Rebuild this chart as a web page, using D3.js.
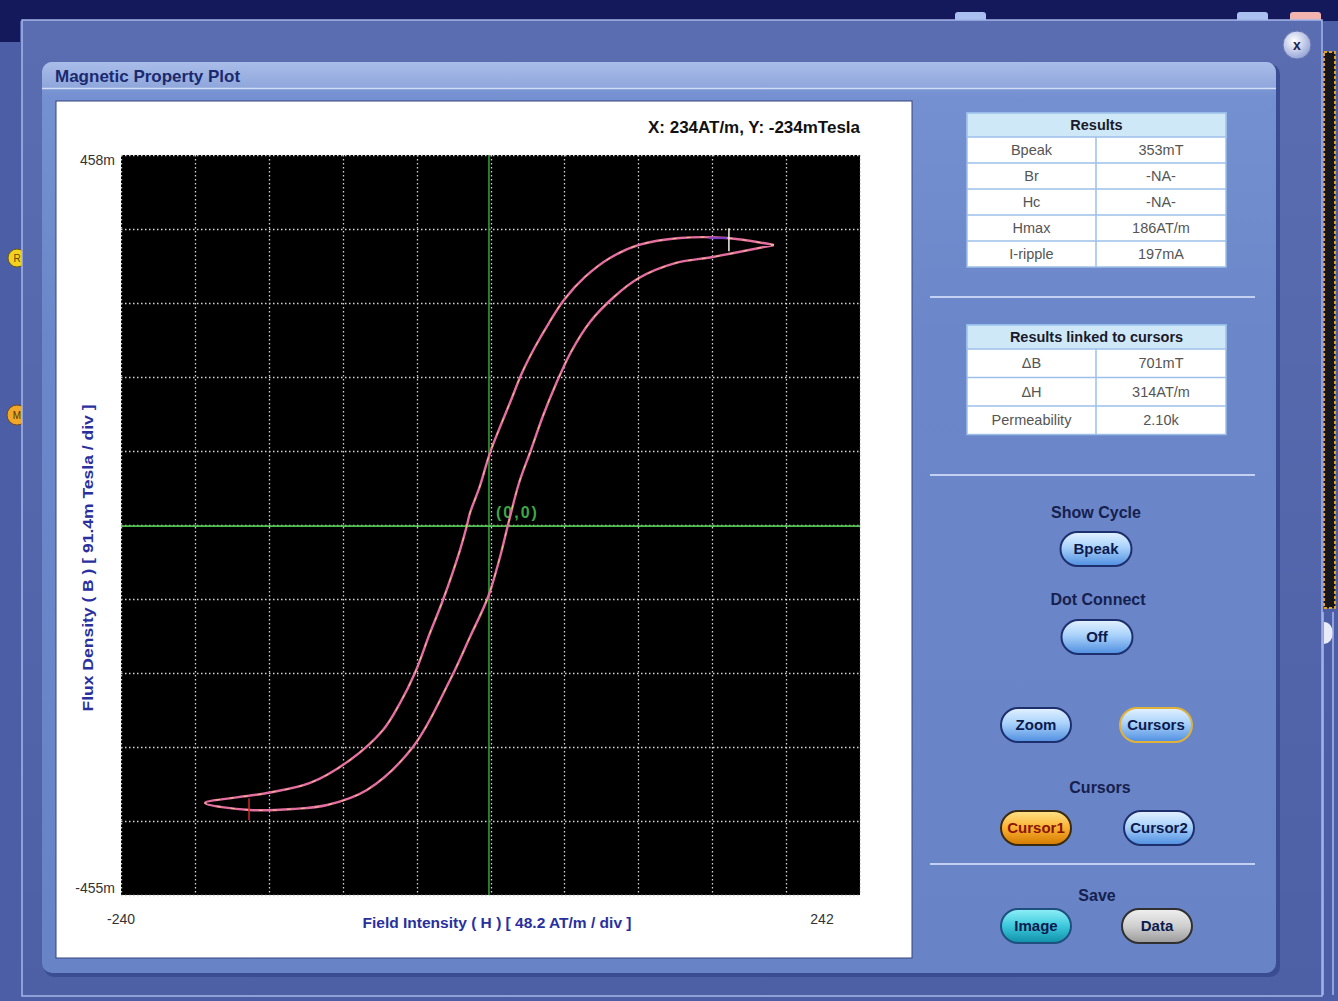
<!DOCTYPE html>
<html><head><meta charset="utf-8">
<script src="https://cdn.jsdelivr.net/npm/d3@7"></script>
<style>
body{margin:0;background:#4b5ea6;overflow:hidden}
svg{display:block}
text{font-family:"Liberation Sans",Arial,sans-serif}
</style>
</head><body>
<svg id="c" width="1338" height="1001"></svg>
<script>
// ---------- data ----------
const hDomain = [-240, 242];          // Field intensity H, AT/m
const bDomain = [-455, 458];          // Flux density B, mT
const hDivisions = 10;
const bDivisions = 10;
const hTickLabels = ["-240", "242"];
const bTickLabels = ["458m", "-455m"];

// descending branch (from +Hmax tip to -Hmax tip)
const descH = [185.9, 155.2, 124.6, 97.8, 78.9, 62.6, 48.9, 39.1, 30.0, 21.5, 14.4, 7.2, 0.6, -6.1, -12.4, -14.3, -18.9, -30.0, -38.5, -48.3, -58.0, -69.1, -90.6, -116.7, -144.8, -185.2];
const descB = [347, 355.6, 355.6, 347, 330.9, 307.5, 279.1, 250.7, 221.1, 189, 155.7, 122.4, 90.3, 48.4, 16.3, 1.5, -29.4, -91, -131.8, -181.1, -218.1, -251.4, -288.4, -316.8, -329.2, -341.5];
// ascending branch (from -Hmax tip back to +Hmax tip)
const ascH = [-185.2, -155.9, -127.8, -105.6, -79.6, -49.6, -25.4, -12.4, -0.6, 7.2, 12.4, 19.6, 27.4, 35.2, 43.7, 53.5, 65.9, 81.5, 97.8, 122.0, 146.1, 185.9];
const ascB = [-341.5, -350.1, -348.9, -344, -325.5, -272.4, -189.7, -136.7, -87.3, -38, 1.5, 53.3, 94, 136, 175.5, 215, 252, 282.8, 306.2, 324.8, 332.2, 347];

const cursorH = [-156.5, 156.5];
const cursorB = [-350.5, 350.5];
const cursorReadout = "X: 234AT/m, Y: -234mTesla";
const xAxisTitle = "Field Intensity ( H )  [ 48.2 AT/m / div ]";
const yAxisTitle = "Flux Density ( B )  [ 91.4m Tesla / div ]";

const resultsLabels = ["Bpeak", "Br", "Hc", "Hmax", "I-ripple"];
const resultsValues = ["353mT", "-NA-", "-NA-", "186AT/m", "197mA"];
const cursorLabels = ["\u0394B", "\u0394H", "Permeability"];
const cursorValues = ["701mT", "314AT/m", "2.10k"];

// ---------- drawing ----------
const svg = d3.select("#c");
const defs = svg.append("defs");

function lg(id, stops, vertical = true) {
  const g = defs.append("linearGradient").attr("id", id)
    .attr("x1", 0).attr("y1", 0).attr("x2", vertical ? 0 : 1).attr("y2", vertical ? 1 : 0);
  stops.forEach(s => g.append("stop").attr("offset", s[0]).attr("stop-color", s[1]));
}
lg("win", [[0, "#5a6db0"], [1, "#4d60a6"]]);
lg("title", [[0, "#aabde9"], [1, "#8ea6db"]]);
lg("panel", [[0, "#86a0da"], [0.04, "#7590d0"], [0.3, "#6b87c9"], [1, "#6884c7"]]);
lg("btnBlue", [[0, "#e4f2ff"], [0.45, "#a9d2fb"], [1, "#4f8ee0"]]);
lg("btnOrange", [[0, "#ffe38a"], [0.5, "#fbb030"], [1, "#d27a00"]]);
lg("btnTeal", [[0, "#8ff0f8"], [0.5, "#3cc8dc"], [1, "#0f8fa8"]]);
lg("btnGray", [[0, "#f0f0f0"], [0.5, "#cfcfcf"], [1, "#9a9a9a"]]);
const rg = defs.append("radialGradient").attr("id", "closeG").attr("cx", "40%").attr("cy", "35%").attr("r", "65%");
rg.append("stop").attr("offset", 0).attr("stop-color", "#ffffff");
rg.append("stop").attr("offset", 1).attr("stop-color", "#98a6d8");

// background bands
svg.append("rect").attr("width", 1338).attr("height", 1001).attr("fill", "#4b5ea6");
svg.append("rect").attr("width", 1338).attr("height", 21).attr("fill", "#14195c");
svg.append("rect").attr("x", 0).attr("y", 0).attr("width", 20).attr("height", 42).attr("fill", "#14195c");
// top tabs
[[955, 31, "#a9c0f0"], [1237, 31, "#a9c0f0"], [1290, 31, "#f3b4b0"]].forEach(t => {
  svg.append("rect").attr("x", t[0]).attr("y", 12).attr("width", t[1]).attr("height", 12).attr("rx", 3).attr("fill", t[2]);
});
// left side indicator circles
svg.append("circle").attr("cx", 17).attr("cy", 258).attr("r", 9).attr("fill", "#f2d21e").attr("stroke", "#6a5a10");
svg.append("text").attr("x", 17).attr("y", 262).attr("text-anchor", "middle").attr("font-size", 10).attr("fill", "#5a4a00").text("R");
svg.append("circle").attr("cx", 17).attr("cy", 415).attr("r", 10).attr("fill", "#f0a82a").attr("stroke", "#7a4a10");
svg.append("text").attr("x", 17).attr("y", 419).attr("text-anchor", "middle").attr("font-size", 10).attr("fill", "#5a3000").text("M");

// outer window
svg.append("rect").attr("x", 22).attr("y", 20).attr("width", 1300).attr("height", 976)
  .attr("fill", "url(#win)").attr("stroke", "#a6b6ea").attr("stroke-width", 1.5);
// right edge strip
svg.append("rect").attr("x", 1324).attr("y", 52).attr("width", 11).attr("height", 556).attr("fill", "#15151a")
  .attr("stroke", "#e3a21f").attr("stroke-width", 2).attr("stroke-dasharray", "3,2");
svg.append("path").attr("d", "M1324,622 a9,11 0 0 1 0,22 z").attr("fill", "#e8ecf8");
svg.append("line").attr("x1", 1323).attr("x2", 1323).attr("y1", 612).attr("y2", 995).attr("stroke", "#a9b9ee").attr("stroke-width", 1.5);
svg.append("line").attr("x1", 1333).attr("x2", 1333).attr("y1", 612).attr("y2", 995).attr("stroke", "#a9b9ee").attr("stroke-width", 1.5);

// close button
svg.append("circle").attr("cx", 1297).attr("cy", 45).attr("r", 14).attr("fill", "url(#closeG)").attr("stroke", "#6474b0");
svg.append("text").attr("x", 1297).attr("y", 50).attr("text-anchor", "middle").attr("font-size", 14)
  .attr("font-weight", "bold").attr("fill", "#1a2050").text("x");

// panel
svg.append("rect").attr("x", 44).attr("y", 64).attr("width", 1236).attr("height", 913).attr("rx", 10).attr("fill", "#3b4d92");
svg.append("rect").attr("x", 42).attr("y", 62).attr("width", 1234).attr("height", 911).attr("rx", 10).attr("fill", "url(#panel)");
svg.append("path").attr("d", "M42,88 V72 a10,10 0 0 1 10,-10 H1266 a10,10 0 0 1 10,10 V88 Z").attr("fill", "url(#title)");
svg.append("line").attr("x1", 42).attr("x2", 1276).attr("y1", 88.5).attr("y2", 88.5).attr("stroke", "#d3def6").attr("stroke-width", 1.5);
svg.append("text").attr("x", 55).attr("y", 82).attr("font-size", 17).attr("font-weight", "bold")
  .attr("fill", "#1b2a6e").text("Magnetic Property Plot");

// white chart card
svg.append("rect").attr("x", 56).attr("y", 101).attr("width", 856).attr("height", 857)
  .attr("fill", "#ffffff").attr("stroke", "#34447e");

// scales
const plot = { left: 121, right: 860, top: 155, bottom: 895 };
const x = d3.scaleLinear().domain(hDomain).range([plot.left, plot.right]);
const y = d3.scaleLinear().domain(bDomain).range([plot.bottom, plot.top]);

const g = svg.append("g");
g.append("rect").attr("x", x(hDomain[0])).attr("y", y(bDomain[1]))
  .attr("width", x(hDomain[1]) - x(hDomain[0])).attr("height", y(bDomain[0]) - y(bDomain[1])).attr("fill", "#000");

const hStep = (hDomain[1] - hDomain[0]) / hDivisions;
const bStep = (bDomain[1] - bDomain[0]) / bDivisions;
const hGrid = d3.range(hDivisions + 1).map(i => hDomain[0] + i * hStep);
const bGrid = d3.range(bDivisions + 1).map(i => bDomain[0] + i * bStep);

g.selectAll(".vg").data(hGrid).join("line")
  .attr("x1", d => Math.round(x(d)) + 0.5).attr("x2", d => Math.round(x(d)) + 0.5)
  .attr("y1", y(bDomain[1])).attr("y2", y(bDomain[0]))
  .attr("stroke", "#d4d4d4").attr("stroke-width", 1.3).attr("stroke-dasharray", "1.5,2.5");
g.selectAll(".hg").data(bGrid).join("line")
  .attr("y1", d => Math.round(y(d)) + 0.5).attr("y2", d => Math.round(y(d)) + 0.5)
  .attr("x1", x(hDomain[0])).attr("x2", x(hDomain[1]))
  .attr("stroke", "#d4d4d4").attr("stroke-width", 1.3).attr("stroke-dasharray", "1.5,2.5");

// green zero crosshair
g.append("line").attr("x1", x(0)).attr("x2", x(0)).attr("y1", y(bDomain[1])).attr("y2", y(bDomain[0]))
  .attr("stroke", "#2f9a34").attr("stroke-width", 1.6);
g.append("line").attr("y1", y(0)).attr("y2", y(0)).attr("x1", x(hDomain[0])).attr("x2", x(hDomain[1]))
  .attr("stroke", "#4fc04f").attr("stroke-width", 1.8);
g.append("text").attr("x", x(0) + 7).attr("y", y(0) - 8).attr("font-size", 16).attr("font-weight", "bold")
  .attr("fill", "#3ea844").attr("letter-spacing", 2).text("(0,0)");

// hysteresis loop
const loop = descH.map((h, i) => [h, descB[i]]).concat(ascH.slice(1).map((h, i) => [h, ascB[i + 1]]));
const line = d3.line().x(d => x(d[0])).y(d => y(d[1])).curve(d3.curveCatmullRom.alpha(0.5));
g.append("path").attr("d", line(loop)).attr("fill", "none").attr("stroke", "#e46ea0").attr("stroke-width", 2.4);
g.append("path").attr("d", line(loop)).attr("fill", "none").attr("stroke", "#f4d27c").attr("stroke-width", 1)
  .attr("stroke-dasharray", "4,10").attr("opacity", 0.85);

// cursor marks
g.append("line").attr("x1", x(cursorH[1])).attr("x2", x(cursorH[1])).attr("y1", y(cursorB[1]) - 14).attr("y2", y(cursorB[1]) + 9)
  .attr("stroke", "#f4f0e0").attr("stroke-width", 1.5);
g.append("line").attr("x1", x(cursorH[1]) - 20).attr("x2", x(cursorH[1]) - 2).attr("y1", y(cursorB[1]) - 4).attr("y2", y(cursorB[1]) - 4)
  .attr("stroke", "#7a3cc8").attr("stroke-width", 2);
g.append("line").attr("x1", x(cursorH[0])).attr("x2", x(cursorH[0])).attr("y1", y(cursorB[0]) - 12).attr("y2", y(cursorB[0]) + 10)
  .attr("stroke", "#d0282a").attr("stroke-width", 1.5);

// axis labels
const narrow = '"Liberation Sans Narrow","Liberation Sans",Arial,sans-serif';
svg.append("text").attr("x", 860).attr("y", 133).attr("text-anchor", "end").attr("font-size", 16).attr("font-weight", "bold")
  .attr("font-family", narrow).attr("textLength", 212).attr("lengthAdjust", "spacingAndGlyphs").attr("fill", "#111").text(cursorReadout);
svg.append("text").attr("x", 115).attr("y", 165).attr("text-anchor", "end").attr("font-size", 14).attr("fill", "#333")
  .attr("font-family", narrow).text(bTickLabels[0]);
svg.append("text").attr("x", 115).attr("y", 893).attr("text-anchor", "end").attr("font-size", 14).attr("fill", "#333")
  .attr("font-family", narrow).text(bTickLabels[1]);
svg.append("text").attr("x", x(hDomain[0])).attr("y", 924).attr("text-anchor", "middle").attr("font-size", 14).attr("fill", "#333")
  .attr("font-family", narrow).text(hTickLabels[0]);
svg.append("text").attr("x", 822).attr("y", 924).attr("text-anchor", "middle").attr("font-size", 14).attr("fill", "#333")
  .attr("font-family", narrow).text(hTickLabels[1]);
svg.append("text").attr("x", 497).attr("y", 928).attr("text-anchor", "middle").attr("font-size", 14).attr("font-weight", "bold")
  .attr("font-family", narrow).attr("textLength", 269).attr("lengthAdjust", "spacingAndGlyphs").attr("fill", "#2a2f9e").text(xAxisTitle);
svg.append("text").attr("transform", "translate(93,558) rotate(-90)").attr("text-anchor", "middle").attr("font-size", 14)
  .attr("font-weight", "bold").attr("font-family", narrow).attr("textLength", 307).attr("lengthAdjust", "spacingAndGlyphs")
  .attr("fill", "#2a2f9e").text(yAxisTitle);

// ---------- right-hand controls ----------
function table(top, header, labels, values, rowH) {
  const L = 967, M = 1096, R = 1226, hh = 24;
  const t = svg.append("g");
  t.append("rect").attr("x", L).attr("y", top).attr("width", R - L).attr("height", hh + rowH * labels.length)
    .attr("fill", "#fff").attr("stroke", "#9cc0ea").attr("stroke-width", 1.5);
  t.append("rect").attr("x", L).attr("y", top).attr("width", R - L).attr("height", hh).attr("fill", "#cfe8f8")
    .attr("stroke", "#9cc0ea").attr("stroke-width", 1.5);
  t.append("text").attr("x", (L + R) / 2).attr("y", top + 17).attr("text-anchor", "middle").attr("font-size", 14.5)
    .attr("font-weight", "bold").attr("fill", "#1a1a2a").text(header);
  labels.forEach((lab, i) => {
    const ry = top + hh + i * rowH;
    if (i > 0) t.append("line").attr("x1", L).attr("x2", R).attr("y1", ry).attr("y2", ry).attr("stroke", "#9cc0ea").attr("stroke-width", 1.5);
    t.append("text").attr("x", (L + M) / 2).attr("y", ry + rowH / 2 + 5).attr("text-anchor", "middle").attr("font-size", 14.5)
      .attr("fill", "#555").text(lab);
    t.append("text").attr("x", (M + R) / 2).attr("y", ry + rowH / 2 + 5).attr("text-anchor", "middle").attr("font-size", 14.5)
      .attr("fill", "#555").text(values[i]);
  });
  t.append("line").attr("x1", M).attr("x2", M).attr("y1", top + hh).attr("y2", top + hh + rowH * labels.length)
    .attr("stroke", "#9cc0ea").attr("stroke-width", 1.5);
}
table(113, "Results", resultsLabels, resultsValues, 26);
table(325, "Results linked to cursors", cursorLabels, cursorValues, 28.5);

[297, 475, 864].forEach(yy => svg.append("line").attr("x1", 930).attr("x2", 1255).attr("y1", yy).attr("y2", yy)
  .attr("stroke", "#c3d0f2").attr("stroke-width", 2));

function label(cx, cy, txt) {
  svg.append("text").attr("x", cx).attr("y", cy).attr("text-anchor", "middle").attr("font-size", 16)
    .attr("font-weight", "bold").attr("fill", "#16204e").text(txt);
}
function button(cx, cy, w, txt, fill, stroke, color) {
  const h = 34;
  svg.append("rect").attr("x", cx - w / 2).attr("y", cy - h / 2).attr("width", w).attr("height", h).attr("rx", h / 2)
    .attr("fill", fill).attr("stroke", stroke).attr("stroke-width", 2);
  svg.append("text").attr("x", cx).attr("y", cy + 5).attr("text-anchor", "middle").attr("font-size", 15)
    .attr("font-weight", "bold").attr("font-family", narrow).attr("fill", color).text(txt);
}
label(1096, 518, "Show Cycle");
button(1096, 549, 71, "Bpeak", "url(#btnBlue)", "#1e2f6e", "#0d1a4e");
label(1098, 605, "Dot Connect");
button(1097, 637, 71, "Off", "url(#btnBlue)", "#1e2f6e", "#0d1a4e");
button(1036, 725, 70, "Zoom", "url(#btnBlue)", "#1e2f6e", "#0d1a4e");
button(1156, 725, 72, "Cursors", "url(#btnBlue)", "#e0b23a", "#0d1a4e");
label(1100, 793, "Cursors");
button(1036, 828, 70, "Cursor1", "url(#btnOrange)", "#3a2a10", "#8a1400");
button(1159, 828, 70, "Cursor2", "url(#btnBlue)", "#1e2f6e", "#0d1a4e");
label(1097, 901, "Save");
button(1036, 926, 70, "Image", "url(#btnTeal)", "#1e4f7e", "#0d1a4e");
button(1157, 926, 70, "Data", "url(#btnGray)", "#303030", "#0d1a4e");
</script>
</body></html>
